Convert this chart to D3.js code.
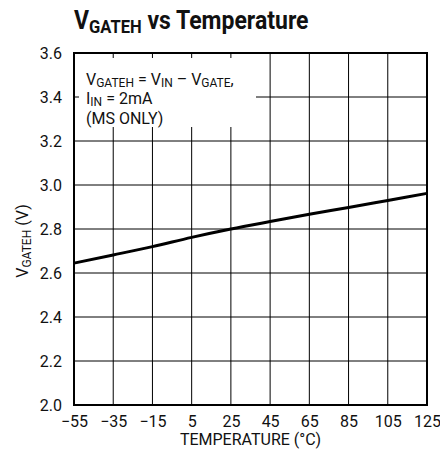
<!DOCTYPE html>
<html>
<head>
<meta charset="utf-8">
<script src="https://cdn.jsdelivr.net/npm/d3@7"></script>
<style>
  body { margin: 0; background: #fff; }
  svg text { font-family: Roboto, "Liberation Sans", sans-serif; fill: #111; }
</style>
</head>
<body>
<div id="chart"></div>
<script>
// data
const temperatures = [-55, -35, -15, 5, 25, 45, 65, 85, 105, 125];
const vGateH = [2.645, 2.682, 2.72, 2.762, 2.8, 2.834, 2.867, 2.898, 2.93, 2.962];
const xTicks = [-55, -35, -15, 5, 25, 45, 65, 85, 105, 125];
const yTicks = [2.0, 2.2, 2.4, 2.6, 2.8, 3.0, 3.2, 3.4, 3.6];

const margin = {top: 53, right: 13, bottom: 61, left: 74},
    width = 440 - margin.left - margin.right,
    height = 466 - margin.top - margin.bottom;

const svgRoot = d3.select("#chart").append("svg")
    .attr("width", 440)
    .attr("height", 466);

const svg = svgRoot.append("g")
    .attr("transform", "translate(" + margin.left + "," + margin.top + ")");

const x = d3.scaleLinear().domain([-55, 125]).range([0, width]);
const y = d3.scaleLinear().domain([2.0, 3.6]).range([height, 0]);

// grid
svg.append("g")
    .selectAll("line")
    .data(xTicks.slice(1, -1))
    .join("line")
        .attr("x1", d => x(d)).attr("x2", d => x(d))
        .attr("y1", 0).attr("y2", height)
        .attr("stroke", "#000").attr("stroke-width", 1);

svg.append("g")
    .selectAll("line")
    .data(yTicks.slice(1, -1))
    .join("line")
        .attr("x1", 0).attr("x2", width)
        .attr("y1", d => y(d)).attr("y2", d => y(d))
        .attr("stroke", "#000").attr("stroke-width", 1);

// white box behind the note
svg.append("rect")
    .attr("x", 0).attr("y", 0)
    .attr("width", 182).attr("height", 74)
    .attr("fill", "#fff");

// small inner ticks left visible on the frame under the note
svg.append("g")
    .selectAll("line")
    .data(xTicks.filter(d => x(d) > 0 && x(d) < 182))
    .join("line")
        .attr("x1", d => x(d)).attr("x2", d => x(d))
        .attr("y1", 0).attr("y2", 5)
        .attr("stroke", "#000");
svg.append("g")
    .selectAll("line")
    .data(yTicks.filter(d => y(d) > 0 && y(d) < 74))
    .join("line")
        .attr("x1", 0).attr("x2", 5)
        .attr("y1", d => y(d)).attr("y2", d => y(d))
        .attr("stroke", "#000");

// frame
svg.append("rect")
    .attr("width", width).attr("height", height)
    .attr("fill", "none").attr("stroke", "#000").attr("stroke-width", 2);

// the curve
svg.append("path")
    .datum(temperatures.map((t, i) => ({t: t, v: vGateH[i]})))
    .attr("fill", "none")
    .attr("stroke", "#000")
    .attr("stroke-width", 3)
    .attr("d", d3.line()
        .x(d => x(d.t))
        .y(d => y(d.v))
        .curve(d3.curveMonotoneX));

// axes (labels only)
const xAxis = svg.append("g")
    .attr("transform", "translate(0," + height + ")")
    .call(d3.axisBottom(x).tickValues(xTicks).tickSize(0).tickPadding(11));
xAxis.select(".domain").remove();
xAxis.selectAll("text").style("font-size", "16px").attr("fill", "#111");

const yAxis = svg.append("g")
    .call(d3.axisLeft(y).tickValues(yTicks).tickFormat(d3.format(".1f")).tickSize(0).tickPadding(12));
yAxis.select(".domain").remove();
yAxis.selectAll("text").style("font-size", "16px").attr("fill", "#111");

// title (squeezed a little, the original face is condensed)
const title = svgRoot.append("text")
    .attr("transform", "translate(74,29) scale(0.92,1)")
    .style("font-size", "25px")
    .style("font-weight", "bold");
title.append("tspan").text("V");
title.append("tspan").text("GATEH").style("font-size", "18px").attr("dy", 4);
title.append("tspan").text(" vs Temperature").attr("dy", -4);

// x axis title
svgRoot.append("text")
    .attr("x", margin.left + width / 2)
    .attr("y", 445)
    .attr("text-anchor", "middle")
    .style("font-size", "16px")
    .text("TEMPERATURE (°C)");

// y axis title
const yTitle = svgRoot.append("text")
    .attr("transform", "translate(28,241) rotate(-90)")
    .attr("text-anchor", "middle")
    .style("font-size", "16px");
yTitle.append("tspan").text("V");
yTitle.append("tspan").text("GATEH").style("font-size", "12px").attr("dy", 3);
yTitle.append("tspan").text(" (V)").attr("dy", -3);

// note
function subText(sel, parts) {
    parts.forEach(p => {
        const ts = sel.append("tspan").text(p[0]);
        if (p[1]) ts.style("font-size", "12px").attr("dy", 2);
        else if (p[2]) ts.attr("dy", -2);
    });
}
const note = svgRoot.append("g").style("font-size", "16px");
subText(note.append("text").attr("x", 86).attr("y", 85),
    [["V", 0], ["GATEH", 1], [" = V", 0, 1], ["IN", 1], [" \u2013 V", 0, 1], ["GATE", 1], [",", 0, 1]]);
subText(note.append("text").attr("x", 86).attr("y", 104),
    [["I", 0], ["IN", 1], [" = 2mA", 0, 1]]);
note.append("text").attr("x", 86).attr("y", 124).text("(MS ONLY)");
</script>
</body>
</html>
